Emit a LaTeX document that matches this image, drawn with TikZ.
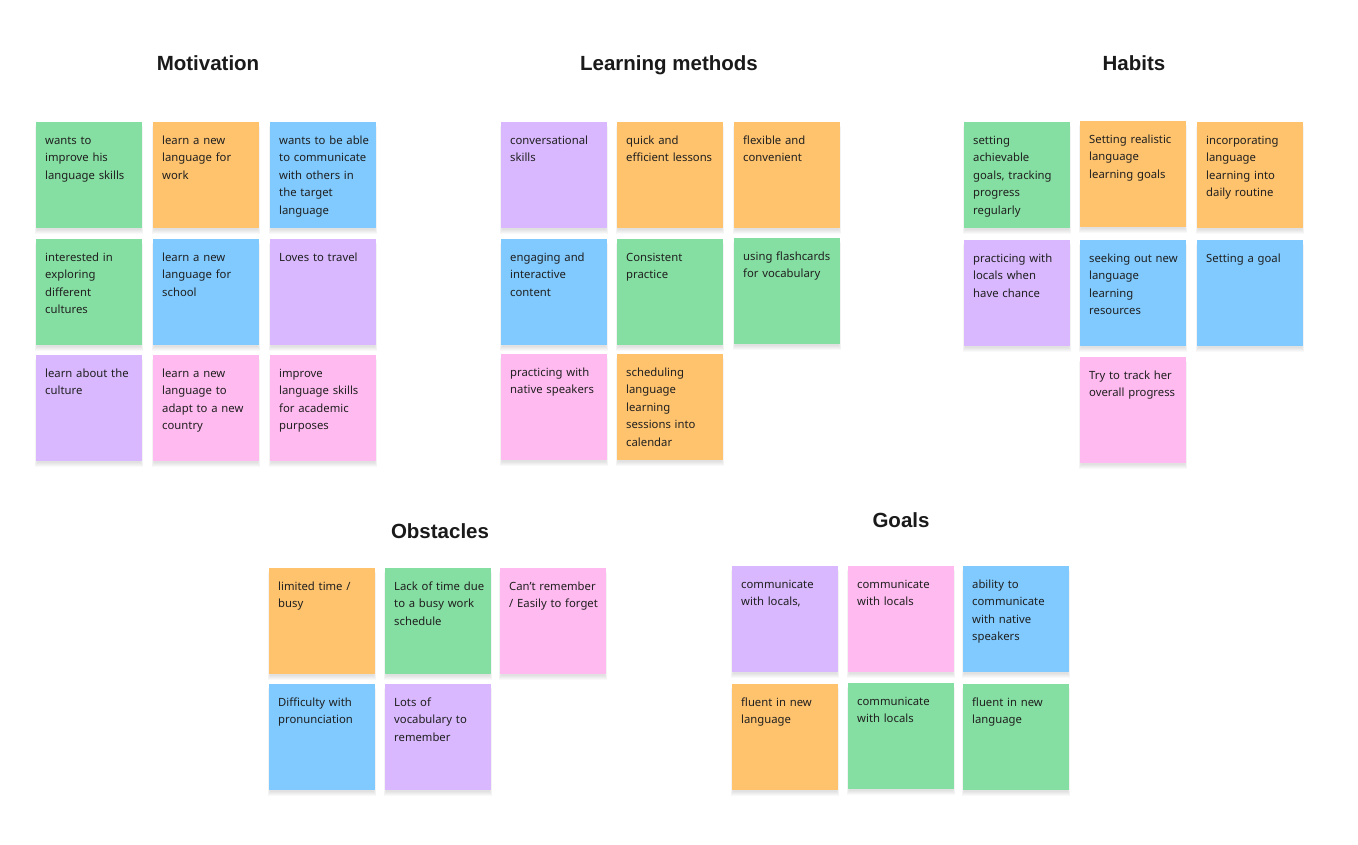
\documentclass[tikz,border=0pt]{standalone}
\usepackage{fontspec}
\setmainfont{Noto Sans}
\newfontfamily\headfont{Liberation Sans}

\definecolor{sgreen}{HTML}{86DFA2}
\definecolor{sorange}{HTML}{FFC36E}
\definecolor{sblue}{HTML}{80CAFF}
\definecolor{spurple}{HTML}{D9B8FF}
\definecolor{spink}{HTML}{FFBBF0}
\definecolor{ink}{HTML}{1F1F1F}
\definecolor{heading}{HTML}{1A1A1A}

\tikzset{
  card/.style={rectangle, anchor=north west, inner sep=0pt, draw=none,
    minimum width=106pt, minimum height=106pt, fill=#1},
  cardshadow/.style={fill=black, fill opacity=0.022},
  cardtext/.style={anchor=north west, inner sep=0pt, text width=100pt,
    align=left, text=ink, font=\fontsize{11.3}{17.5}\selectfont},
  heading/.style={anchor=base, inner sep=0pt, text=heading,
    font=\headfont\fontsize{20.5}{22}\selectfont\bfseries},
}

% one sticky card with a soft shadow underneath: name, colour, left, top, text
\newcommand\sticky[5]{%
  \foreach \d in {1,...,5}{%
    \fill[cardshadow] (#3-0.4*\d+1,#4+\d) rectangle ++(104+0.8*\d,107);
  }
  \node[card=#2] (#1) at (#3,#4) {};
  \node[cardtext] (#1t) at ([xshift=9pt,yshift=-10pt]#1.north west) {\strut #5};
}

\begin{document}
\hyphenpenalty=10000
\exhyphenpenalty=10000
\begin{tikzpicture}[x=1pt,y=-1pt]
\fill[white] (0,0) rectangle (1358,845);
\useasboundingbox (0,0) rectangle (1358,845);

% ---------- Motivation ----------
\node[heading] (hmot) at (208,70.5) {Motivation};
\sticky{m11}{sgreen}{36}{122}{wants to\\improve his\\language skills}
\sticky{m12}{sorange}{153}{122}{learn a new\\language for\\work}
\sticky{m13}{sblue}{270}{122}{wants to be able\\to communicate\\with others in\\the target\\language}
\sticky{m21}{sgreen}{36}{239}{interested in\\exploring\\different\\cultures}
\sticky{m22}{sblue}{153}{239}{learn a new\\language for\\school}
\sticky{m23}{spurple}{270}{239}{Loves to travel}
\sticky{m31}{spurple}{36}{355}{learn about the\\culture}
\sticky{m32}{spink}{153}{355}{learn a new\\language to\\adapt to a new\\country}
\sticky{m33}{spink}{270}{355}{improve\\language skills\\for academic\\purposes}

% ---------- Learning methods ----------
\node[heading] (hlm) at (669,70.5) {Learning methods};
\sticky{l11}{spurple}{501}{122}{conversational\\skills}
\sticky{l12}{sorange}{617}{122}{quick and\\efficient lessons}
\sticky{l13}{sorange}{734}{122}{flexible and\\convenient}
\sticky{l21}{sblue}{501}{239}{engaging and\\interactive\\content}
\sticky{l22}{sgreen}{617}{239}{Consistent\\practice}
\sticky{l23}{sgreen}{734}{238}{using flashcards\\for vocabulary}
\sticky{l31}{spink}{501}{354}{practicing with\\native speakers}
\sticky{l32}{sorange}{617}{354}{scheduling\\language\\learning\\sessions into\\calendar}

% ---------- Habits ----------
\node[heading] (hhab) at (1134,70.5) {Habits};
\sticky{h11}{sgreen}{964}{122}{setting\\achievable\\goals, tracking\\progress\\regularly}
\sticky{h12}{sorange}{1080}{121}{Setting realistic\\language\\learning goals}
\sticky{h13}{sorange}{1197}{122}{incorporating\\language\\learning into\\daily routine}
\sticky{h21}{spurple}{964}{240}{practicing with\\locals when\\have chance}
\sticky{h22}{sblue}{1080}{240}{seeking out new\\language\\learning\\resources}
\sticky{h23}{sblue}{1197}{240}{Setting a goal}
\sticky{h32}{spink}{1080}{357}{Try to track her\\overall progress}

% ---------- Obstacles ----------
\node[heading] (hobs) at (440,538.5) {Obstacles};
\sticky{o11}{sorange}{269}{568}{limited time /\\busy}
\sticky{o12}{sgreen}{385}{568}{Lack of time due\\to a busy work\\schedule}
\sticky{o13}{spink}{500}{568}{Can’t remember\\/ Easily to forget}
\sticky{o21}{sblue}{269}{684}{Difficulty with\\pronunciation}
\sticky{o22}{spurple}{385}{684}{Lots of\\vocabulary to\\remember}

% ---------- Goals ----------
\node[heading] (hgoal) at (901,527.5) {Goals};
\sticky{g11}{spurple}{732}{566}{communicate\\with locals,}
\sticky{g12}{spink}{848}{566}{communicate\\with locals}
\sticky{g13}{sblue}{963}{566}{ability to\\communicate\\with native\\speakers}
\sticky{g21}{sorange}{732}{684}{fluent in new\\language}
\sticky{g22}{sgreen}{848}{683}{communicate\\with locals}
\sticky{g23}{sgreen}{963}{684}{fluent in new\\language}
\end{tikzpicture}
\end{document}
